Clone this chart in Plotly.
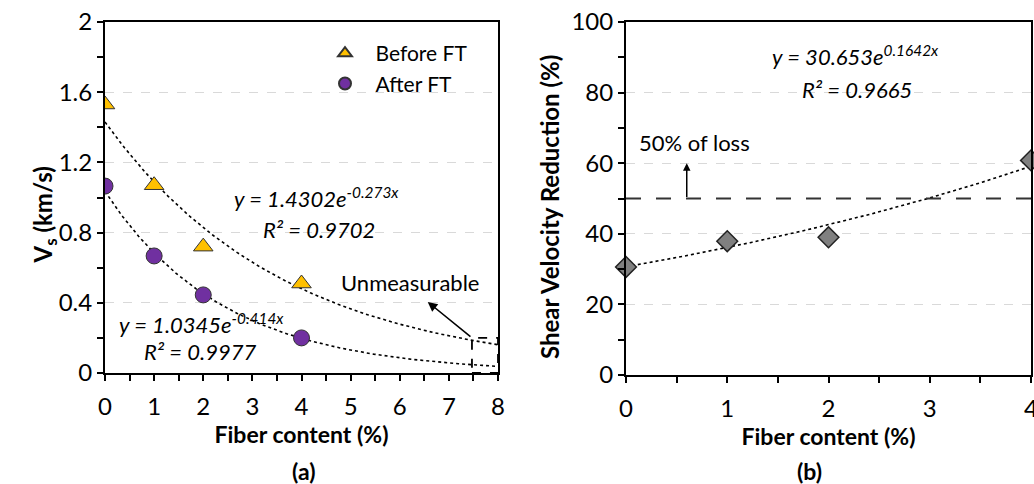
import numpy as np
import plotly.graph_objects as go
from plotly.subplots import make_subplots

# ---- data ----
fiber = [0, 1, 2, 4]
vs_before = [1.53, 1.07, 0.72, 0.51]
vs_after = [1.065, 0.667, 0.445, 0.20]
reduction = [30.6, 37.9, 39.0, 60.8]

# trendline equations displayed on the chart
fit_before = (1.4302, -0.273)
fit_after = (1.0345, -0.414)
fit_red = (30.653, 0.1642)

FONT = "Lato"
W, H = 1034, 484
TICK = 24
TITLE = 23
ANN = 22

fig = make_subplots(rows=1, cols=2)

xa = np.linspace(0, 8, 200)
xb = np.linspace(0, 4, 200)

fig.add_trace(go.Scatter(x=xa, y=fit_before[0] * np.exp(fit_before[1] * xa), mode="lines",
                         line=dict(color="black", width=1.6, dash="dot"), showlegend=False,
                         hoverinfo="skip"), row=1, col=1)
fig.add_trace(go.Scatter(x=xa, y=fit_after[0] * np.exp(fit_after[1] * xa), mode="lines",
                         line=dict(color="black", width=1.6, dash="dot"), showlegend=False,
                         hoverinfo="skip"), row=1, col=1)
fig.add_trace(go.Scatter(x=fiber, y=vs_before, mode="markers", name="\u2002Before FT",
                         marker=dict(symbol="triangle-up", size=17, color="#FFC000",
                                     line=dict(color="#333333", width=1))), row=1, col=1)
fig.add_trace(go.Scatter(x=fiber, y=vs_after, mode="markers", name="\u2002After FT",
                         marker=dict(symbol="circle", size=16, color="#7030A0",
                                     line=dict(color="#333333", width=1))), row=1, col=1)

fig.add_trace(go.Scatter(x=xb, y=fit_red[0] * np.exp(fit_red[1] * xb), mode="lines",
                         line=dict(color="black", width=1.6, dash="dot"), showlegend=False,
                         hoverinfo="skip"), row=1, col=2)
fig.add_trace(go.Scatter(x=fiber, y=reduction, mode="markers", showlegend=False,
                         marker=dict(symbol="diamond", size=16, color="#808080",
                                     line=dict(color="#222222", width=1.5)),
                         cliponaxis=False), row=1, col=2)

axis_common = dict(showline=True, linecolor="black", linewidth=2, mirror=True,
                   ticks="outside", ticklen=6, tickwidth=2, tickcolor="black", automargin=False,
                   ticklabeloverflow="allow",
                   tickfont=dict(family=FONT, size=TICK, color="black"), zeroline=False)
minor_common = dict(ticks="outside", ticklen=6, tickwidth=2, tickcolor="black")

fig.update_xaxes(**axis_common, range=[0, 8], dtick=1, showgrid=False, ticklabelstandoff=5,
                 minor=dict(dtick=0.5, **minor_common),
                 domain=[105 / W, 498 / W], row=1, col=1,
                 title=dict(text="<b>Fiber content (%)</b>", font=dict(family=FONT, size=TITLE, color="black"),
                            standoff=0))
fig.update_yaxes(**axis_common, range=[0, 2], dtick=0.4, showgrid=True, gridcolor="#d9d9d9",
                 griddash="dash", gridwidth=1.2,
                 minor=dict(dtick=0.2, **minor_common),
                 domain=[1 - 373 / H, 1 - 22 / H], row=1, col=1)
fig.update_xaxes(**axis_common, range=[0, 4], dtick=1, showgrid=False, ticklabelstandoff=5,
                 minor=dict(dtick=0.5, **minor_common),
                 domain=[626 / W, 1031 / W], row=1, col=2,
                 title=dict(text="<b>Fiber content (%)</b>", font=dict(family=FONT, size=TITLE, color="black"),
                            standoff=3))
fig.update_yaxes(**axis_common, range=[0, 100], dtick=20, showgrid=True, gridcolor="#d9d9d9",
                 griddash="dash", gridwidth=1.2,
                 minor=dict(dtick=10, **minor_common),
                 domain=[1 - 375 / H, 1 - 22 / H], row=1, col=2)

# y-axis titles (placed as rotated annotations, offset like the original)
fig.add_annotation(x=25 / W, y=1 - 215 / H, xref="paper", yref="paper", textangle=-90,
                   text="<b>V<sub>s</sub> (km/s)</b>", showarrow=False,
                   font=dict(family=FONT, size=24, color="black"))
fig.add_annotation(x=550 / W, y=1 - 207 / H, xref="paper", yref="paper", textangle=-90,
                   text="<b>Shear Velocity Reduction (%)</b>", showarrow=False,
                   font=dict(family=FONT, size=24, color="black"))

# shapes
fig.add_shape(type="rect", xref="x", yref="y", x0=7.47, x1=8, y0=0, y1=0.2,
              line=dict(color="black", width=1.8, dash="dash"))
fig.add_shape(type="line", xref="x2", yref="y2", x0=0, x1=4, y0=50, y1=50,
              line=dict(color="#333333", width=1.8, dash="longdash"))

tf = dict(family=FONT, size=ANN, color="black")
ann = [
    dict(x=4.31, y=1.0, xref="x", yref="y", text="<i>y = 1.4302e<sup>-0.273x</sup></i>"),
    dict(x=4.35, y=0.815, xref="x", yref="y", text="<i>R² = 0.9702</i>"),
    dict(x=1.96, y=0.28, xref="x", yref="y", text="<i>y = 1.0345e<sup>-0.414x</sup></i>"),
    dict(x=1.94, y=0.12, xref="x", yref="y", text="<i>R² = 0.9977</i>"),
    dict(x=6.2, y=0.515, xref="x", yref="y", text="Unmeasurable"),
    dict(x=2.27, y=90.5, xref="x2", yref="y2", text="<i>y = 30.653e<sup>0.1642x</sup></i>"),
    dict(x=2.28, y=81.0, xref="x2", yref="y2", text="<i>R² = 0.9665</i>"),
    dict(x=0.68, y=66, xref="x2", yref="y2", text="50% of loss"),
]
for a in ann:
    fig.add_annotation(**a, showarrow=False, font=tf)

fig.add_annotation(x=6.57, y=0.405, xref="x", yref="y", ax=7.47, ay=0.2, axref="x", ayref="y",
                   text="", showarrow=True, arrowhead=2, arrowsize=1.2, arrowwidth=1.6, arrowcolor="black")
fig.add_annotation(x=0.6, y=60, xref="x2", yref="y2", ax=0.6, ay=50, axref="x2", ayref="y2",
                   text="", showarrow=True, arrowhead=2, arrowsize=1.0, arrowwidth=1.5, arrowcolor="black")

fig.add_annotation(x=290 / W, y=1 - 471 / H, xref="paper", yref="paper", text="<b>(a)</b>",
                   showarrow=False, font=dict(family=FONT, size=TITLE, color="black"), yanchor="middle")
fig.add_annotation(x=824 / W, y=1 - 471 / H, xref="paper", yref="paper", text="<b>(b)</b>",
                   showarrow=False, font=dict(family=FONT, size=TITLE, color="black"), yanchor="middle")

fig.update_layout(
    width=W, height=H, margin=dict(l=0, r=0, t=0, b=0, autoexpand=False),
    paper_bgcolor="white", plot_bgcolor="white",
    font=dict(family=FONT, size=TICK, color="black"),
    legend=dict(x=325 / W, y=1 - 33 / H, xanchor="left", yanchor="top",
                font=dict(family=FONT, size=21, color="black"), bgcolor="rgba(0,0,0,0)",
                tracegroupgap=0, itemsizing="constant"),
)

fig.write_html("out.html", config={"displayModeBar": False},
               post_script="document.body.style.margin='0';document.body.style.padding='0';")
